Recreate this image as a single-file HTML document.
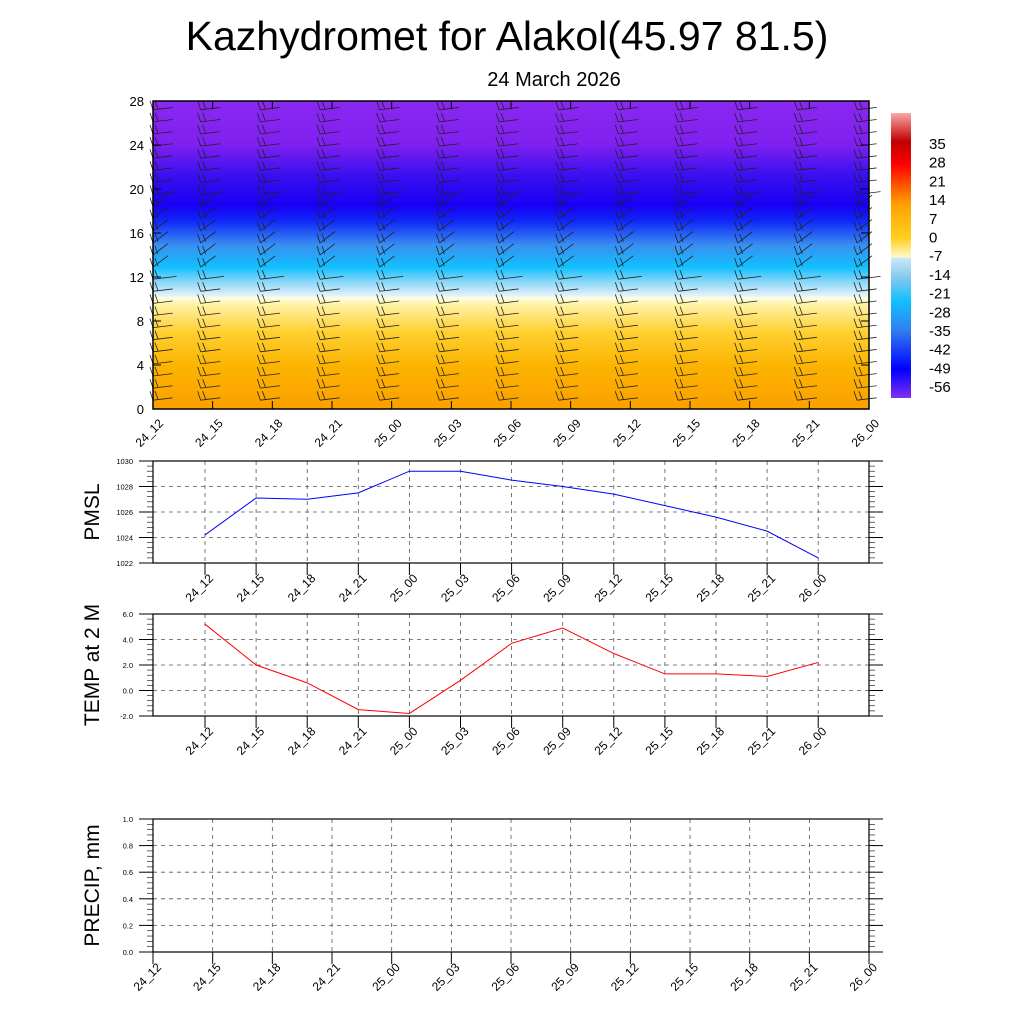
<!DOCTYPE html>
<html><head><meta charset="utf-8"><style>
body{margin:0;background:#fff;}
svg{display:block;font-family:"Liberation Sans",sans-serif;}
</style></head><body>
<svg id="c" width="1024" height="1024" viewBox="0 0 1024 1024">
<defs>
<linearGradient id="tgrad" x1="0" y1="1" x2="0" y2="0">
<stop offset="0" stop-color="#fba000"/>
<stop offset="0.14" stop-color="#fcb400"/>
<stop offset="0.25" stop-color="#fed030"/>
<stop offset="0.34" stop-color="#fff3a8"/>
<stop offset="0.36" stop-color="#ffffe0"/>
<stop offset="0.37" stop-color="#e0f0fa"/>
<stop offset="0.41" stop-color="#90d8f8"/>
<stop offset="0.46" stop-color="#10c0ff"/>
<stop offset="0.53" stop-color="#3a90f0"/>
<stop offset="0.61" stop-color="#1028f8"/>
<stop offset="0.66" stop-color="#1800f5"/>
<stop offset="0.76" stop-color="#3a10f0"/>
<stop offset="0.86" stop-color="#8020f0"/>
<stop offset="1" stop-color="#8a28f0"/>
</linearGradient>
<linearGradient id="cbgrad" x1="0" y1="0" x2="0" y2="1">
<stop offset="0" stop-color="#f8a8a8"/>
<stop offset="0.1" stop-color="#c00000"/>
<stop offset="0.18" stop-color="#ff0000"/>
<stop offset="0.25" stop-color="#ff5000"/>
<stop offset="0.32" stop-color="#ffa000"/>
<stop offset="0.44" stop-color="#ffd020"/>
<stop offset="0.507" stop-color="#fffad0"/>
<stop offset="0.508" stop-color="#cce8f6"/>
<stop offset="0.58" stop-color="#80c8f0"/>
<stop offset="0.66" stop-color="#10c0ff"/>
<stop offset="0.76" stop-color="#3080f0"/>
<stop offset="0.9" stop-color="#0000ff"/>
<stop offset="1" stop-color="#8030f0"/>
</linearGradient>
</defs>
<text x="507" y="50" font-size="41" text-anchor="middle">Kazhydromet for Alakol(45.97 81.5)</text>
<text x="554" y="86" font-size="20" text-anchor="middle">24 March 2026</text>
<g id="topg"></g>
<g id="cb"></g>
<g id="p1"></g>
<g id="p2"></g>
<g id="p3"></g>
</svg>
<script>
const times=["24_12","24_15","24_18","24_21","25_00","25_03","25_06","25_09","25_12","25_15","25_18","25_21","26_00"];
const pmsl=[1024.2,1027.1,1027.0,1027.5,1029.2,1029.2,1028.5,1028.0,1027.4,1026.5,1025.6,1024.5,1022.4];
const temp=[5.2,2.0,0.6,-1.5,-1.8,0.8,3.7,4.9,2.9,1.3,1.3,1.1,2.2];
const precip=[0,0,0,0,0,0,0,0,0,0,0,0,0];
const heightTicks=[0,4,8,12,16,20,24,28];
const cbLabels=[35,28,21,14,7,0,-7,-14,-21,-28,-35,-42,-49,-56];
const NS="http://www.w3.org/2000/svg";
function mk(p,t,a){const e=document.createElementNS(NS,t);for(const k in a)e.setAttribute(k,a[k]);p.appendChild(e);return e;}
const topG=document.getElementById('topg');
const TX0=153,TX1=869,TY0=409,TY1=101;
const tx=i=>TX0+i*(TX1-TX0)/(times.length-1);
const ty=v=>TY0-(v/28)*(TY0-TY1);
let r=mk(topG,'rect',{x:TX0,y:TY1,width:TX1-TX0,height:TY0-TY1,fill:'url(#tgrad)'});


for(let i=0;i<times.length;i++){
 for(let h=0.8;h<28;h+=1.1){
  const x=tx(i)+(i==0?0:-12),y=ty(h);
  const g=mk(topG,'g',{stroke:'#222','stroke-width':0.8,fill:'none'});
  
  
  const len=h>11&&h<20?24:20;
  const ang=(h>12&&h<19)?-0.9:-0.2;
  const x2=x+Math.cos(ang)*len,y2=y+Math.sin(ang)*len*0.6;
  mk(g,'line',{x1:x,y1:y,x2:x2,y2:y2});
  mk(g,'line',{x1:x,y1:y,x2:x-3,y2:y-9});
  mk(g,'line',{x1:x+5,y1:y-1,x2:x+2,y2:y-9});
 }
}
mk(topG,'rect',{x:TX0,y:TY1,width:TX1-TX0,height:TY0-TY1,fill:'none',stroke:'#000','stroke-width':1.5});
heightTicks.forEach(v=>{
 const t=mk(topG,'text',{x:TX0-9,y:ty(v)+5,'font-size':13,'text-anchor':'end'});t.textContent=v;
 
 mk(topG,'line',{x1:TX0,x2:TX0+8,y1:ty(v),y2:ty(v),stroke:'#000'});
 mk(topG,'line',{x1:TX1,x2:TX1-8,y1:ty(v),y2:ty(v),stroke:'#000'});
});
times.forEach((s,i)=>{
 mk(topG,'line',{x1:tx(i),x2:tx(i),y1:TY0,y2:TY0-8,stroke:'#000'});
 mk(topG,'line',{x1:tx(i),x2:tx(i),y1:TY1,y2:TY1+8,stroke:'#000'});
 const lx=tx(i)+11,ly=TY0+15;
 const t=mk(topG,'text',{x:lx,y:ly,'font-size':12,'text-anchor':'end',transform:`rotate(-45 ${lx} ${ly})`});t.textContent=s;
 
});
const cb=document.getElementById('cb');
mk(cb,'rect',{x:891,y:113,width:20,height:285,fill:'url(#cbgrad)'});
cbLabels.forEach((v,k)=>{
 const t=mk(cb,'text',{x:929,y:149+k*18.7,'font-size':15});t.textContent=v;
 
});
function panel(g,y0,y1,ymin,ymax,yt,fmt,data,color,title,xstep,xoff,labelY){
 const X0=153,X1=869;
 const sy=v=>y1-(v-ymin)/(ymax-ymin)*(y1-y0);
 const sx=i=>xoff+i*xstep;
 yt.forEach(v=>{
  mk(g,'line',{x1:X0,x2:X1,y1:sy(v),y2:sy(v),stroke:'#555','stroke-dasharray':'4,4','stroke-width':0.8});
  const t=mk(g,'text',{x:X0-20,y:sy(v)+3,'font-size':7.5,'text-anchor':'end'});t.textContent=fmt(v);
  
  mk(g,'line',{x1:X0-14,x2:X0,y1:sy(v),y2:sy(v),stroke:'#000'});
  mk(g,'line',{x1:X1,x2:X1+14,y1:sy(v),y2:sy(v),stroke:'#000'});
 });
 const minor=(ymax-ymin)/(yt.length-1)/5;
 for(let v=ymin;v<=ymax+1e-6;v+=minor){mk(g,'line',{x1:X0-6,x2:X0,y1:sy(v),y2:sy(v),stroke:'#000','stroke-width':0.6});mk(g,'line',{x1:X1,x2:X1+6,y1:sy(v),y2:sy(v),stroke:'#000','stroke-width':0.6});}
 times.forEach((s,i)=>{
  const x=sx(i);
  if(x>X0+2&&x<X1-2) mk(g,'line',{x1:x,x2:x,y1:y0,y2:y1,stroke:'#555','stroke-dasharray':'4,4','stroke-width':0.8});
  mk(g,'line',{x1:x,x2:x,y1:y1,y2:y1+12,stroke:'#000'});
  const lx=x+9;
  const t=mk(g,'text',{x:lx,y:labelY,'font-size':12,'text-anchor':'end',transform:`rotate(-45 ${lx} ${labelY})`});t.textContent=s;
  
 });
 const pts=data.map((v,i)=>sx(i)+','+sy(v)).join(' ');
 const pl=mk(g,'polyline',{points:pts,fill:'none',stroke:color,'stroke-width':1});
 
 mk(g,'rect',{x:X0,y:y0,width:X1-X0,height:y1-y0,fill:'none',stroke:'#000','stroke-width':1.2});
 const cy=(y0+y1)/2;
 const t=mk(g,'text',{x:99,y:cy,'font-size':21,'text-anchor':'middle',transform:`rotate(-90 99 ${cy})`});t.textContent=title;
 
}
panel(document.getElementById('p1'),461,563,1022,1030,[1022,1024,1026,1028,1030],v=>v,pmsl,'#0000ff','PMSL',51.1,205,579);
panel(document.getElementById('p2'),614,716,-2,6,[-2,0,2,4,6],v=>v.toFixed(1),temp,'#ff0000','TEMP at 2 M',51.1,205,732);
panel(document.getElementById('p3'),819,952,0,1,[0,0.2,0.4,0.6,0.8,1.0],v=>v.toFixed(1),precip,'#006000','PRECIP, mm',59.67,153,968);
</script>
</body></html>
